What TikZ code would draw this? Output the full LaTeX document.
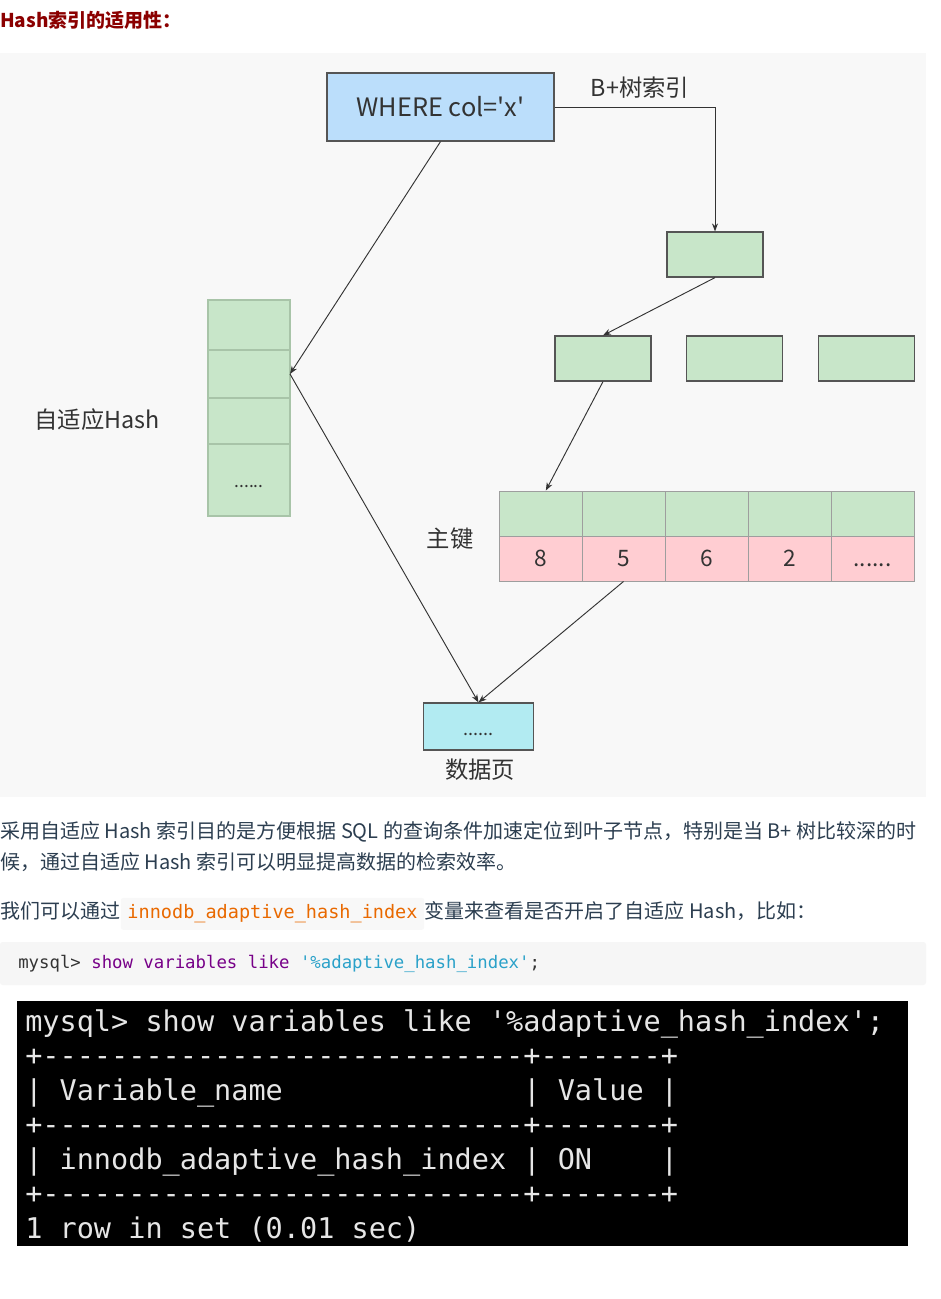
\documentclass[tikz,border=0pt]{standalone}
\usepackage{fontspec}
\setmainfont{Noto Sans CJK SC}[Ligatures=TeXOff]
\setmonofont{DejaVu Sans Mono}
\usetikzlibrary{arrows.meta,positioning}
\definecolor{TitleRed}{HTML}{8B0000}
\definecolor{Canvas}{HTML}{F8F8F8}
\definecolor{CodeBg}{HTML}{F6F6F6}
\definecolor{Ink}{HTML}{333333}
\definecolor{BodyText}{HTML}{2C3E50}
\definecolor{LeafGreen}{HTML}{C8E6C9}
\definecolor{KeyPink}{HTML}{FFCDD2}
\definecolor{QueryBlue}{HTML}{BBDEFB}
\definecolor{PageCyan}{HTML}{B2EBF2}
\definecolor{EdgeGray}{HTML}{555555}
\definecolor{CellGray}{HTML}{9E9E9E}
\definecolor{HashEdge}{HTML}{A8C4A8}
\definecolor{InlineOrange}{HTML}{E96900}
\definecolor{KwPurple}{HTML}{770088}
\definecolor{StrBlue}{HTML}{2AA1C9}
\definecolor{TermText}{HTML}{E6E6E6}
\tikzset{
  query/.style={draw=EdgeGray, fill=QueryBlue, line width=0.9pt, minimum width=170.25pt, minimum height=51pt, inner sep=0pt, text=Ink, font=\fontsize{19}{22}\selectfont},
  treebox/.style={draw=EdgeGray, fill=LeafGreen, line width=0.9pt, minimum width=72pt, minimum height=33.75pt, inner sep=0pt},
  hashcell/.style={draw=HashEdge, fill=LeafGreen, line width=0.8pt, minimum width=61.5pt, inner sep=0pt, outer sep=0pt, text=Ink, text height=12pt, text depth=1.5pt, font=\fontsize{13}{15}\selectfont},
  keycell/.style={draw=CellGray, fill=LeafGreen, line width=0.7pt, minimum width=62.25pt, minimum height=33.75pt, inner sep=0pt},
  valcell/.style={keycell, fill=KeyPink, text=Ink, text height=14pt, text depth=2pt, font=\fontsize{17}{20}\selectfont},
  pagebox/.style={draw=EdgeGray, fill=PageCyan, line width=0.9pt, minimum width=82.5pt, minimum height=35.25pt, inner sep=0pt, text=Ink, text height=14pt, text depth=1pt, font=\fontsize{13.5}{15}\selectfont},
  tagtext/.style={inner sep=0pt, text=Ink, font=\fontsize{17.5}{20}\selectfont},
  link/.style={-{Stealth[length=6pt, width=4.5pt]}, line width=0.7pt, draw=Ink},
  body/.style={anchor=west, inner sep=0pt, text=BodyText, font=\fontsize{15}{18}\selectfont},
  inlinecode/.style={fill=Canvas, rounded corners=2pt, text=InlineOrange, inner xsep=5pt, inner ysep=5.5pt, text height=10pt, text depth=3pt, font=\ttfamily\fontsize{13.9}{16}\selectfont},
  termline/.style={anchor=base west, inner sep=0pt, text=TermText, font=\ttfamily\fontsize{21.4}{26}\selectfont}
}

\begin{document}
\begin{tikzpicture}[x=0.75pt, y=-0.75pt]
\fill[white] (0,0) rectangle (941,1299);
\useasboundingbox (0,0) rectangle (941,1299);
\node[anchor=west, inner sep=0pt, text=TitleRed, font=\bfseries\fontsize{14.25}{17}\selectfont] (title) at (0,20) {Hash索引的适用性：};
% diagram
\fill[Canvas] (0,53) rectangle (926,797);
\node[query] (where) at (440.5,107) {WHERE col='x'};
\node[tagtext] (btree) at (640,88) {B+树索引};
\node[treebox] (root) at (715,254.5) {};
\node[treebox] (leafa) at (603,358.5) {};
\node[treebox, right=26pt of leafa] (leafb) {};
\node[treebox, right=26pt of leafb] (leafc) {};
\node[hashcell, minimum height=37.5pt] (hash1) at (249,325) {};
\node[hashcell, minimum height=36pt, below=0pt of hash1] (hash2) {};
\node[hashcell, minimum height=34.5pt, below=0pt of hash2] (hash3) {};
\node[hashcell, minimum height=54pt, below=0pt of hash3] (hash4) {......};
\node[tagtext] (hashtag) at (97,420) {自适应Hash};
\foreach \i/\v in {1/8,2/5,3/6,4/2,5/{......}} {
  \node[keycell] (k\i) at ({499+83*(\i-0.5)},513.5) {};
  \node[valcell] (v\i) at ({499+83*(\i-0.5)},558.5) {\v};
}
\node[tagtext] (pktag) at (450,539) {主键};
\node[pagebox] (page) at (478.5,726.5) {......};
\node[tagtext] (pagetag) at (480,770) {数据页};
\draw[link] (where.east) -| (root.north);
\draw[link] (root.south) -- (leafa.north);
\draw[link] (leafa.south) -- ([xshift=4pt]k1.north);
\draw[link] (where.south) -- (hash2.east);
\draw[link] (hash2.east) -- (page.north);
\draw[link] (v2.south) -- (page.north);
% text below
\node[body] (para1) at (0,832) {采用自适应 Hash 索引目的是方便根据 SQL 的查询条件加速定位到叶子节点，特别是当 B+ 树比较深的时};
\node[body] (para2) at (0,862) {候，通过自适应 Hash 索引可以明显提高数据的检索效率。};
\node[body] (lead) at (0,911) {我们可以通过};
\node[inlinecode, anchor=base west] (varname) at (lead.base east) {innodb\_adaptive\_hash\_index};
\node[body, anchor=base west] (tail) at (varname.base east) {变量来查看是否开启了自适应 Hash，比如：};
\fill[CodeBg, rounded corners=2pt] (0,942) rectangle (926,985);
\node[anchor=west, inner sep=0pt, text=Ink, font=\ttfamily\fontsize{13}{15}\selectfont] (cmd) at (18,964) {mysql> \textcolor{KwPurple}{show variables like} \textcolor{StrBlue}{'\%adaptive\_hash\_index'};};
% terminal screenshot
\fill[black] (17,1001) rectangle (908,1246);
\foreach \t [count=\i] in {
  {mysql> show variables like '\%adaptive\_hash\_index';},
  {+----------------------------+-------+},
  {| Variable\_name~~~~~~~~~~~~~~| Value |},
  {+----------------------------+-------+},
  {| innodb\_adaptive\_hash\_index | ON~~~~|},
  {+----------------------------+-------+},
  {1 row in set (0.01 sec)}}
  \node[termline] (term\i) at (25,{1031+34.5*(\i-1)}) {\t};
\end{tikzpicture}
\end{document}
